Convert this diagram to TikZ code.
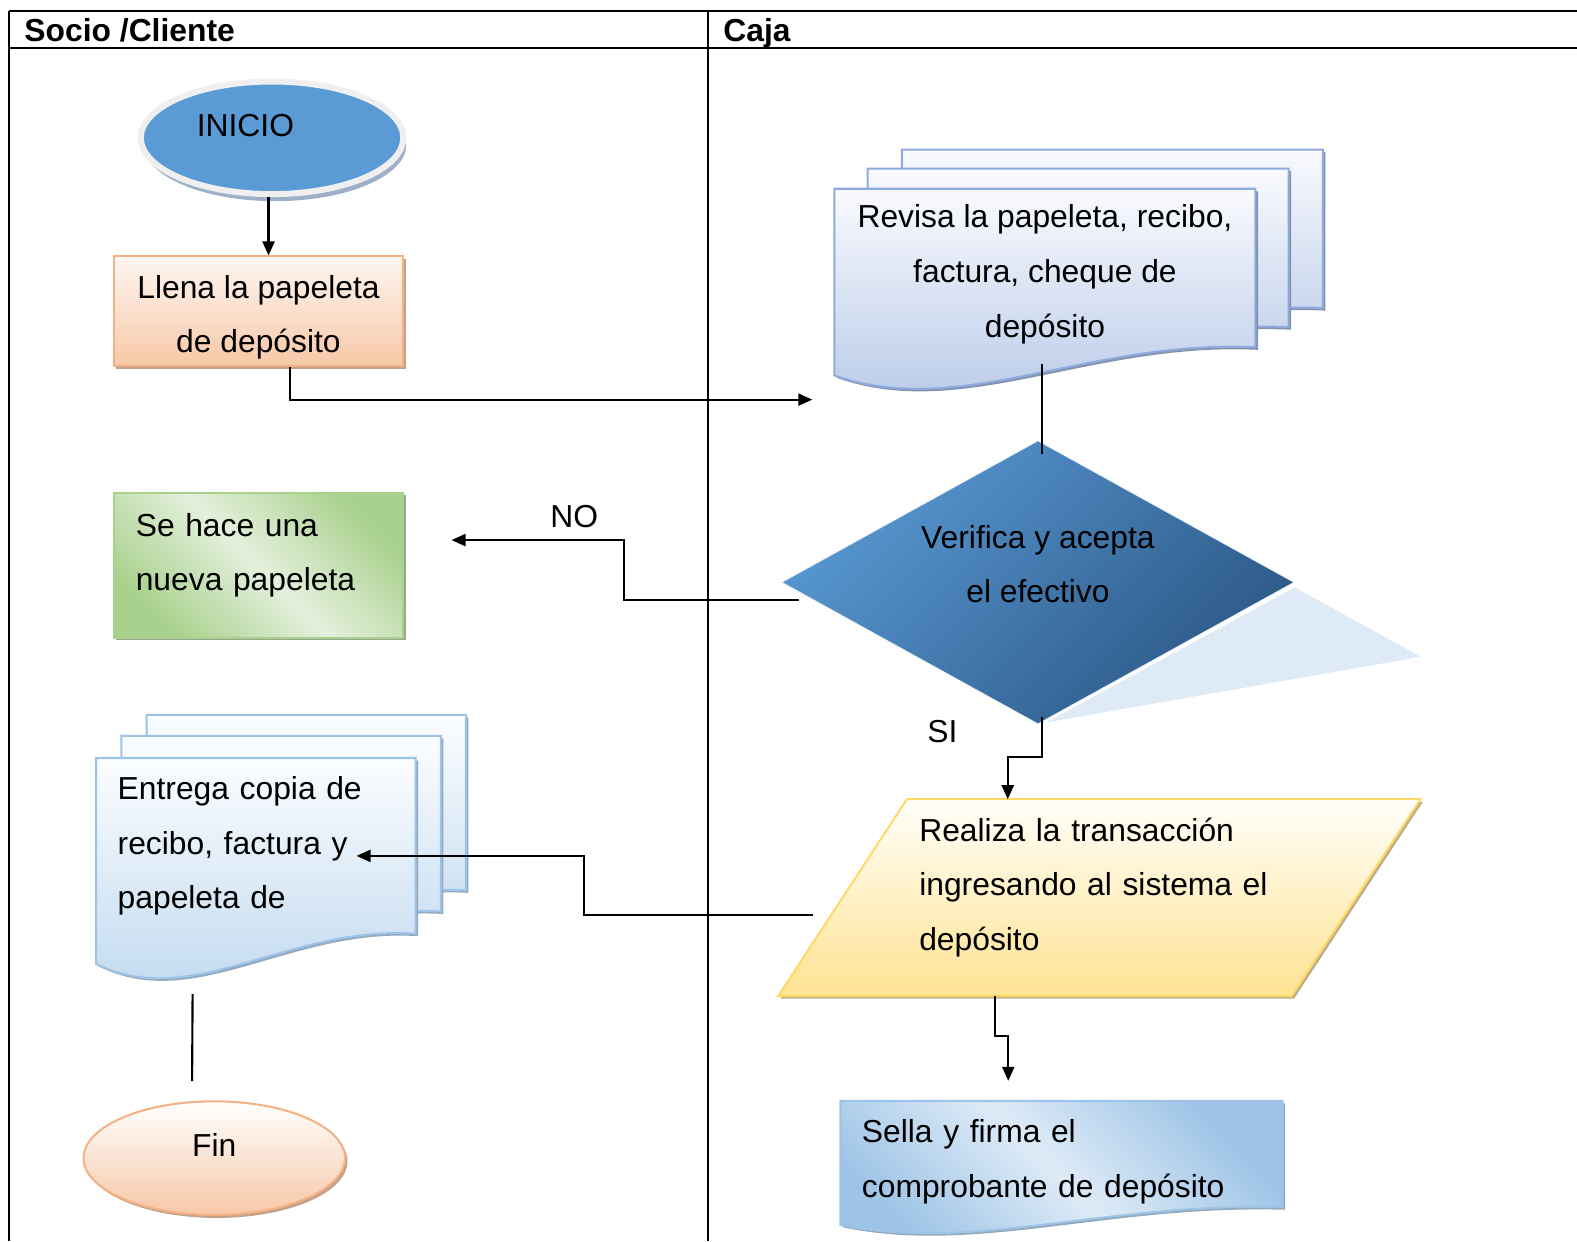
\documentclass[tikz,border=0pt]{standalone}
\usepackage{fontspec}
\setmainfont{Liberation Sans}
\usetikzlibrary{arrows.meta,calc,shapes.geometric,shadows}

\definecolor{inicioblue}{HTML}{5B9BD5}
\definecolor{iniciorim}{HTML}{EFEFEF}
\definecolor{inicioshade}{HTML}{9DB0C8}
\definecolor{peachtop}{HTML}{FEF6F1}
\definecolor{peachbot}{HTML}{F7C8A7}
\definecolor{peachline}{HTML}{F4B183}
\definecolor{peachshade}{HTML}{C4A18A}
\definecolor{greendark}{HTML}{A9D18E}
\definecolor{greenlight}{HTML}{E4F0DC}
\definecolor{greenshade}{HTML}{9AA58F}
\definecolor{revtop}{HTML}{F9FAFE}
\definecolor{revbot}{HTML}{B4C7E7}
\definecolor{revline}{HTML}{8FAADC}
\definecolor{revshade}{HTML}{8393AD}
\definecolor{enttop}{HTML}{FBFDFF}
\definecolor{entbot}{HTML}{BDD7EE}
\definecolor{entline}{HTML}{9DC3E6}
\definecolor{entshade}{HTML}{93A9BD}
\definecolor{sellalight}{HTML}{DEEBF7}
\definecolor{yeltop}{HTML}{FFFEF9}
\definecolor{yelbot}{HTML}{FFE393}
\definecolor{yelline}{HTML}{FFD966}
\definecolor{yelshade}{HTML}{BDAF87}
\definecolor{diamtop}{HTML}{5898D2}
\definecolor{diambot}{HTML}{2C5886}
\definecolor{diamshade}{HTML}{DEEAF6}

\pgfdeclarelayer{background}
\pgfsetlayers{background,main}

% document with wavy bottom, from the anchors of a node: node, wave, dx, dy
\newcommand{\docshape}[5][]{%
  \path[#1] ($(#2.north west)+(#4,#5)$) -- ($(#2.north east)+(#4,#5)$)
    -- ($(#2.south east)+(#4,#5)$)
    .. controls ($(#2.south west)!0.6!(#2.south east)+(#4,#5-0.2*#3)$)
    and ($(#2.south west)!0.3!(#2.south east)+(#4,#5+1.8*#3)$)
    .. ($(#2.south west)+(#4,#5+0.7*#3)$) -- cycle;}
% slanted data box: node, slant
\newcommand{\ioshape}[3][]{%
  \path[#1] ($(#2.north west)+(#3,0)$) -- ($(#2.north east)+(#3,0)$)
    -- ($(#2.south east)+(-#3,0)$) -- ($(#2.south west)+(-#3,0)$) -- cycle;}

\tikzset{
  lane/.style={line width=1.3pt},
  flow/.style={line width=1.2pt, -{Triangle[length=0.28cm, width=0.24cm]}},
  link/.style={line width=1.2pt},
  head/.style={anchor=base west, inner sep=0, font=\fontsize{18}{31}\selectfont\bfseries},
  holder/.style={rectangle, inner sep=0},
  startnode/.style={ellipse, draw=iniciorim, line width=0.12cm, fill=inicioblue,
    minimum width=5.22cm, minimum height=2.24cm,
    drop shadow={shadow xshift=0.06cm, shadow yshift=-0.14cm, fill=inicioshade, opacity=1}},
  endnode/.style={ellipse, draw=peachline, line width=0.04cm, top color=white, bottom color=peachbot,
    minimum width=5.2cm, minimum height=2.26cm,
    drop shadow={shadow xshift=0.05cm, shadow yshift=-0.06cm, fill=peachshade, opacity=1}},
  procbox/.style={rectangle, draw=peachline, line width=0.04cm, top color=peachtop, bottom color=peachbot,
    minimum width=5.76cm, minimum height=2.18cm,
    drop shadow={shadow xshift=0.05cm, shadow yshift=-0.05cm, fill=peachshade, opacity=1}},
  newbox/.style={rectangle, draw=greendark, line width=0.04cm,
    top color=greendark, bottom color=greendark, middle color=greenlight, shading angle=-45,
    minimum width=5.76cm, minimum height=2.88cm,
    drop shadow={shadow xshift=0.05cm, shadow yshift=-0.05cm, fill=greenshade, opacity=1}},
  decision/.style={diamond, aspect=1.8, inner sep=0, draw=white!88!inicioblue, line width=0.5pt,
    top color=diamtop, bottom color=diambot, shading angle=45,
    minimum width=10.2cm, minimum height=5.64cm},
  revdoc/.style={draw=revline, line width=0.04cm, top color=revtop, bottom color=revbot,
    drop shadow={shadow xshift=0.05cm, shadow yshift=-0.05cm, fill=revshade, opacity=1}},
  entdoc/.style={draw=entline, line width=0.04cm, top color=enttop, bottom color=entbot,
    drop shadow={shadow xshift=0.05cm, shadow yshift=-0.05cm, fill=entshade, opacity=1}},
  selladoc/.style={draw=entline, line width=0.04cm,
    top color=entline, bottom color=entline, middle color=sellalight, shading angle=-45,
    drop shadow={shadow xshift=0.05cm, shadow yshift=-0.05cm, fill=entshade, opacity=1}},
  yelbox/.style={draw=yelline, line width=0.04cm, top color=yeltop, bottom color=yelbot,
    drop shadow={shadow xshift=0.05cm, shadow yshift=-0.05cm, fill=yelshade, opacity=1}}
}

\begin{document}
\begin{tikzpicture}[x=0.02cm, y=-0.02cm, every node/.style={font=\fontsize{18}{31}\selectfont}]
    \useasboundingbox (0,0) rectangle (1568,1234);

    % lanes
    \draw[lane] (9,11) -- (1568,11);
    \draw[lane] (9,48) -- (1568,48);
    \draw[lane] (9,11) -- (9,1234);
    \draw[lane] (704,11) -- (704,1234);
    \node[head] (socio) at (24,41) {Socio /Cliente};
    \node[head] (caja) at (719,41) {Caja};

    % Socio /Cliente
    \node[startnode, label={[name=inicio-text, xshift=-0.53cm, yshift=0.24cm]center:INICIO}] (inicio) at (270.5,137) {};
    \node[procbox, label={[name=llena-text, align=center, yshift=-0.12cm]center:Llena la papeleta\\de depósito}] (llena) at (257,309.5) {};
    \node[newbox, label={[name=sehace-text, text width=4.88cm, align=left, yshift=0.2cm]center:Se hace una\\nueva papeleta}] (sehace) at (257,562) {};
    \node[holder, minimum width=6.34cm, minimum height=3.48cm, text width=5.5cm, align=left] (entrega) at (254.5,841) {Entrega copia de\\recibo, factura y\\papeleta de};
    \node[endnode, label={[name=fin-text, yshift=0.27cm]center:Fin}] (fin) at (213,1151.5) {};

    % Caja
    \node[holder, minimum width=8.36cm, minimum height=3.14cm, label={[name=revisa-text, align=center, yshift=-0.12cm]center:Revisa la papeleta, recibo,\\factura, cheque de\\depósito}] (revisa) at (1039,266.5) {};
    \node[decision, label={[name=verifica-text, align=center, yshift=0.36cm]center:Verifica y acepta\\el efectivo}] (verifica) at (1032,579) {};
    \node[holder, minimum width=10.2cm, minimum height=3.9cm, label={[name=realiza-text, text width=7.16cm, align=left, yshift=0.2cm]center:Realiza la transacción\\ingresando al sistema el\\depósito}] (realiza) at (1093,892.5) {};
    \node[holder, minimum width=8.78cm, minimum height=2.1cm, label={[name=sella-text, text width=7.94cm, align=left, yshift=-0.16cm]center:Sella y firma el\\comprobante de depósito}] (sella) at (1055.5,1147.5) {};

    \begin{pgfonlayer}{background}
        \docshape[revdoc]{revisa}{40}{67}{-39}
        \docshape[revdoc]{revisa}{40}{33}{-20}
        \docshape[revdoc]{revisa}{40}{0}{0}
        \docshape[entdoc]{entrega}{43}{50}{-43}
        \docshape[entdoc]{entrega}{43}{25}{-22}
        \docshape[entdoc]{entrega}{43}{0}{0}
        \docshape[selladoc]{sella}{25}{0}{0}
        \ioshape[yelbox]{realiza}{64}
        \fill[diamshade] ($(verifica.east)+(0,5)$) -- ($(verifica.east)+(125,74)$) -- ($(verifica.south)+(8,-2)$) -- cycle;
    \end{pgfonlayer}

    % connectors
    \coordinate (llena-in) at ($(llena.north)+(10,0)$);
    \coordinate (revisa-in) at ($(revisa.south west)+(-22,52)$);
    \coordinate (sehace-in) at ($(sehace.east)+(47,-25)$);
    \coordinate (entrega-in) at ($(entrega.center)+(100,10)$);
    \draw[flow] (inicio.south -| llena-in) -- (llena-in);
    \draw[flow] ($(llena.south)+(31,0)$) |- (revisa-in);
    \draw[link] ($(revisa.south)+(-3,17)$) -- ($(verifica.north)+(4,14)$);
    \draw[flow] ($(verifica.west)+(18,18)$) -- ++(-174,0) |- (sehace-in);
    \node (no) at ($(sehace-in)+(122,-23)$) {NO};
    \draw[flow] ($(verifica.south)+(4,-8)$) -- ++(0,40) -| ($(realiza.north)+(-91,0)$);
    \node (si) at ($(verifica.south)+(-95,7)$) {SI};
    \draw[flow] ($(realiza.west)+(-29,17)$) -- ++(-228,0) |- (entrega-in);
    \draw[flow] ($(realiza.south)+(-104,0)$) -- ++(0,40) -| ($(sella.north)+(-53,-20)$);
    \draw[link] ($(entrega.south)+(-63,60)$) -- ($(fin.north)+(-22,-19)$);
\end{tikzpicture}
\end{document}
